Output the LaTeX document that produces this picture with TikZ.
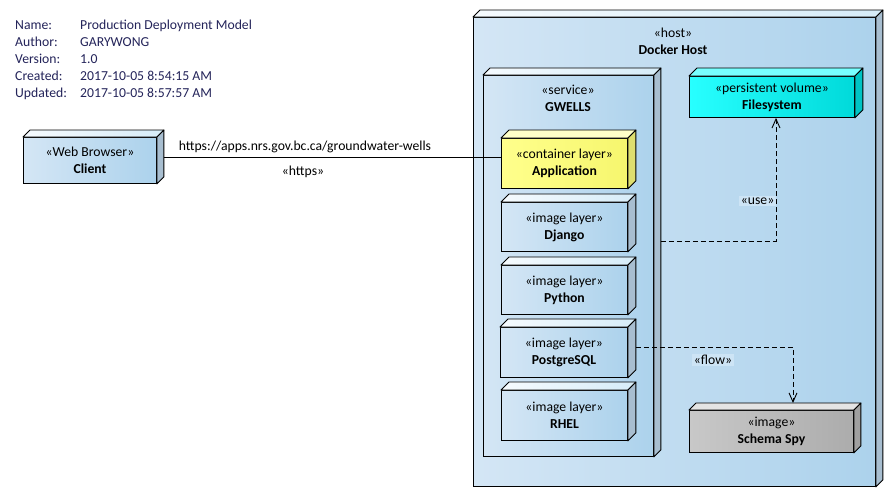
\documentclass[tikz,border=0pt]{standalone}
\usepackage{fontspec}
\setmainfont{Carlito}
\usetikzlibrary{arrows.meta,calc}
\definecolor{bL}{RGB}{212,230,245}
\definecolor{bR}{RGB}{172,210,236}
\definecolor{bTopL}{RGB}{246,251,254}
\definecolor{bTopR}{RGB}{214,236,248}
\definecolor{bSide}{RGB}{168,190,208}
\definecolor{yL}{RGB}{255,255,140}
\definecolor{yR}{RGB}{246,246,110}
\definecolor{yTop}{RGB}{255,255,200}
\definecolor{ySide}{RGB}{222,222,110}
\definecolor{cL}{RGB}{40,255,255}
\definecolor{cR}{RGB}{0,218,218}
\definecolor{cTop}{RGB}{120,255,255}
\definecolor{cSide}{RGB}{0,196,196}
\definecolor{gL}{RGB}{200,200,200}
\definecolor{gR}{RGB}{172,172,172}
\definecolor{gTop}{RGB}{228,228,228}
\definecolor{gSide}{RGB}{160,160,160}
\definecolor{metatext}{RGB}{36,36,90}
\definecolor{lblbg}{RGB}{205,228,245}
\newcommand\depthfaces[5]{% name, depth, top left, top right, side
  \filldraw[left color=#3,right color=#4,draw=black,line width=0.9pt,line join=round] (#1.north west) -- ++(#2,-#2) -- ([shift={(#2,-#2)}]#1.north east) -- (#1.north east) -- cycle;
  \filldraw[fill=#5,draw=black,line width=0.9pt,line join=round] (#1.north east) -- ([shift={(#2,-#2)}]#1.north east) -- ([shift={(#2,-#2)}]#1.south east) -- (#1.south east) -- cycle;
}
\tikzset{
  txt/.style={font=\fontsize{13.7}{17}\selectfont},
  cube/.style={draw=black,line width=0.9pt,anchor=north west,inner sep=0pt,align=center,txt},
  bluebox/.style={cube,left color=bL,right color=bR},
  yellowbox/.style={cube,left color=yL,right color=yR},
  cyanbox/.style={cube,left color=cL,right color=cR},
  greybox/.style={cube,left color=gL,right color=gR},
  dep/.style={draw=black,line width=0.9pt,dash pattern=on 5pt off 3pt,-{Straight Barb[length=9pt,width=8pt,line width=0.9pt]}},
  edgelbl/.style={txt,fill=lblbg,inner sep=1.5pt},
  basetxt/.style={txt,anchor=base,inner sep=0pt}
}
\begin{document}
\begin{tikzpicture}[x=1pt,y=-1pt]
\useasboundingbox (0,0) rectangle (892,496);
\fill[white] (0,0) rectangle (892,496);

% meta
\node[anchor=north west,inner sep=0pt,txt,text=metatext] (meta) at (15,17) {%
\begin{tabular}{@{}p{65pt}@{}l@{}}
Name: & Production Deployment Model\\
Author: & GARYWONG\\
Version: & 1.0\\
Created: & 2017-10-05 8:54:15 AM\\
Updated: & 2017-10-05 8:57:57 AM
\end{tabular}};

% Docker host
\node[bluebox,minimum width=402pt,minimum height=469pt] (host) at (473,17) {};
\depthfaces{host}{7}{bTopL}{bTopR}{bSide}
\node[basetxt] (hostst) at (673,37) {«host»};
\node[basetxt] (hostname) at (673,54) {\textbf{Docker Host}};

% GWELLS
\node[bluebox,minimum width=170pt,minimum height=381pt] (gw) at (483,75) {};
\depthfaces{gw}{7}{bTopL}{bTopR}{bSide}
\node[basetxt] (gwst) at (568,94) {«service»};
\node[basetxt] (gwname) at (568,111) {\textbf{GWELLS}};

% Filesystem
\node[cyanbox,minimum width=165pt,minimum height=41pt] (fs) at (689,76) {«persistent volume»\\\textbf{Filesystem}};
\depthfaces{fs}{8}{cTop}{cTop}{cSide}

% layers
\node[yellowbox,minimum width=126pt,minimum height=50pt] (app) at (501,138) {«container layer»\\\textbf{Application}};
\depthfaces{app}{8}{yTop}{yTop}{ySide}
\node[bluebox,minimum width=126pt,minimum height=49pt] (django) at (501,202) {«image layer»\\\textbf{Django}};
\depthfaces{django}{8}{bTopL}{bTopR}{bSide}
\node[bluebox,minimum width=126pt,minimum height=49pt] (python) at (501,265) {«image layer»\\\textbf{Python}};
\depthfaces{python}{8}{bTopL}{bTopR}{bSide}
\node[bluebox,minimum width=127pt,minimum height=50pt] (pg) at (500,327) {«image layer»\\\textbf{PostgreSQL}};
\depthfaces{pg}{8}{bTopL}{bTopR}{bSide}
\node[bluebox,minimum width=126pt,minimum height=50pt] (rhel) at (501,390) {«image layer»\\\textbf{RHEL}};
\depthfaces{rhel}{8}{bTopL}{bTopR}{bSide}

% Schema Spy
\node[greybox,minimum width=164pt,minimum height=42pt] (spy) at (689,410) {«image»\\\textbf{Schema Spy}};
\depthfaces{spy}{7}{gTop}{gTop}{gSide}

% Client
\node[bluebox,minimum width=133pt,minimum height=46pt] (client) at (23,137) {«Web Browser»\\\textbf{Client}};
\depthfaces{client}{7}{bTopL}{bTopR}{bSide}

% client -> app
\path ([xshift=7pt,yshift=3pt]client.east) coordinate (cle);
\draw[line width=0.9pt] (cle) -- (cle -| app.west);
\node[basetxt] (urllbl) at (305,150) {https://apps.nrs.gov.bc.ca/groundwater-wells};
\node[basetxt] (httpslbl) at (303,175) {«https»};

% use
\coordinate (usebend) at (776,241);
\path ([xshift=7pt]gw.east) coordinate (gwe);
\draw[dep] (gwe |- usebend) -- (usebend) -- (usebend |- fs.south);
\node[edgelbl,anchor=east] (uselbl) at (776,201) {«use»};

% flow
\coordinate (flowbend) at (793,347);
\path ([xshift=8pt]pg.east) coordinate (pge);
\draw[dep] (pge |- flowbend) -- (flowbend) -- (flowbend |- 0,403);
\node[edgelbl] (flowlbl) at (713,360) {«flow»};
\end{tikzpicture}
\end{document}
